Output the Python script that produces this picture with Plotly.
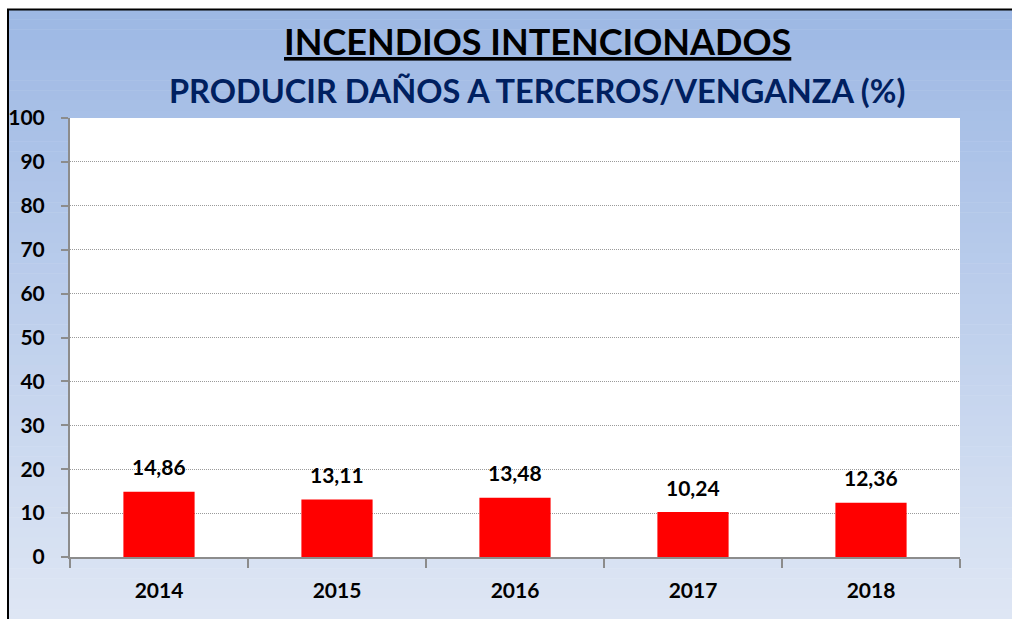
import plotly.graph_objects as go

years = ["2014", "2015", "2016", "2017", "2018"]
values = [14.86, 13.11, 13.48, 10.24, 12.36]
labels = [f"{v:.2f}".replace(".", ",") for v in values]
y_ticks = [0, 10, 20, 30, 40, 50, 60, 70, 80, 90, 100]

W, H = 1012, 619
L, R, T, B = 70, 52, 118, 62
pw, ph = W - L - R, H - T - B

def px_x(p):
    return (p - L) / pw

def px_y(p):
    return (H - B - p) / ph

FONT = "Lato"

fig = go.Figure()
fig.add_trace(go.Bar(x=years, y=values,
                     marker=dict(color="#FF0000", line=dict(width=0)),
                     hoverinfo="skip"))

shapes = []
# gradient background
top = (157, 184, 228)
bot = (222, 230, 244)
n = 60
y_start, y_end = 9, H
for i in range(n):
    a = y_start + (y_end - y_start) * i / n
    b = y_start + (y_end - y_start) * (i + 1) / n
    t = i / (n - 1)
    c = tuple(round(top[k] + (bot[k] - top[k]) * t) for k in range(3))
    shapes.append(dict(type="rect", xref="paper", yref="paper", layer="below",
                       x0=px_x(7), x1=px_x(W + 5), y0=px_y(b + 0.5), y1=px_y(a),
                       fillcolor=f"rgb{c}", line=dict(width=0)))
# white plot area
shapes.append(dict(type="rect", xref="paper", yref="paper", layer="below",
                   x0=0, x1=1, y0=0, y1=1, fillcolor="white", line=dict(width=0)))
# outer border (top and left edges visible)
shapes.append(dict(type="line", xref="paper", yref="paper", layer="above",
                   x0=px_x(7), x1=px_x(W + 5), y0=px_y(9.5), y1=px_y(9.5),
                   line=dict(color="black", width=2)))
shapes.append(dict(type="line", xref="paper", yref="paper", layer="above",
                   x0=px_x(8), x1=px_x(8), y0=px_y(9), y1=px_y(H + 5),
                   line=dict(color="black", width=2)))

annotations = [
    dict(text="<b><u>INCENDIOS INTENCIONADOS</u></b>", xref="paper", yref="paper",
         x=px_x(537), y=px_y(41), showarrow=False, xanchor="center", yanchor="middle",
         font=dict(family=FONT, size=36, color="black")),
    dict(text="<b>PRODUCIR DAÑOS A TERCEROS/VENGANZA (%)</b>", xref="paper", yref="paper",
         x=px_x(537), y=px_y(91), showarrow=False, xanchor="center", yanchor="middle",
         font=dict(family=FONT, size=32.5, color="#002060")),
]
for i, (v, lab) in enumerate(zip(values, labels)):
    annotations.append(dict(x=i, y=v, text=f"<b>{lab}</b>", showarrow=False,
                            xanchor="center", yanchor="middle", yshift=25,
                            font=dict(family=FONT, size=21, color="black")))

fig.update_layout(
    width=W, height=H,
    margin=dict(l=L, r=R, t=T, b=B, pad=0, autoexpand=False),
    paper_bgcolor="white", plot_bgcolor="rgba(0,0,0,0)",
    showlegend=False, bargap=0.6,
    shapes=shapes, annotations=annotations,
    font=dict(family=FONT, color="black"),
    xaxis=dict(type="category", range=[-0.5, len(years) - 0.5], automargin=False,
               tickvals=years, ticktext=[f"<b>{y}</b>" for y in years],
               tickson="boundaries", ticks="outside", ticklen=9,
               tickcolor="#8c8c8c", tickwidth=2,
               showline=True, linecolor="#8c8c8c",
               linewidth=2, showgrid=False, zeroline=False, ticklabelstandoff=14,
               tickfont=dict(family=FONT, size=21, color="black")),
    yaxis=dict(range=[0, 100], automargin=False,
               tickvals=y_ticks, ticktext=[f"<b>{v}</b>" for v in y_ticks],
               ticks="outside", ticklen=7, tickcolor="#8c8c8c", tickwidth=2,
               showline=True, linecolor="#8c8c8c", linewidth=2,
               showgrid=True, gridcolor="#9a9a9a", griddash="1px,1px", gridwidth=1,
               zeroline=False, ticklabelstandoff=12,
               tickfont=dict(family=FONT, size=21, color="black")),
)

fig.write_html("out.html", config={"displayModeBar": False},
               post_script="document.body.style.margin='0px';")
